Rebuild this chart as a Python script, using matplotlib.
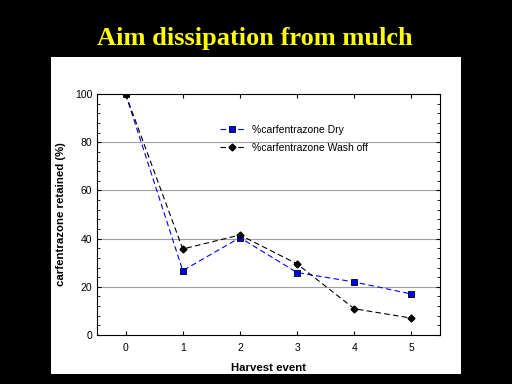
import matplotlib
matplotlib.use("Agg")
import matplotlib.pyplot as plt
from matplotlib.patches import Rectangle
from matplotlib.ticker import MultipleLocator

harvest = [0, 1, 2, 3, 4, 5]
dry = [100, 26.7, 40.4, 25.9, 22.0, 17.0]
wash = [100, 35.7, 41.5, 29.5, 10.9, 7.0]
xticks = [0, 1, 2, 3, 4, 5]
yticks = [0, 20, 40, 60, 80, 100]

W, H = 512, 384
fig = plt.figure(figsize=(W / 100, H / 100), dpi=100, facecolor="black")

# white panel
fig.patches.append(Rectangle((51 / W, 1 - 374 / H), (461 - 51) / W, (374 - 57) / H,
                             transform=fig.transFigure, facecolor="white",
                             edgecolor="none", zorder=-10))

fig.text(255 / W, 1 - 38 / H, "Aim dissipation from mulch", color="#ffff00",
         fontsize=19, fontweight="bold", family="Liberation Serif",
         ha="center", va="center")

ax = fig.add_axes([97 / W, 1 - 335 / H, (440 - 97) / W, (335 - 94) / H])
ax.set_zorder(5)
ax.set_facecolor("white")
ax.set_xlim(-0.5, 5.5)
ax.set_ylim(0, 100)
ax.set_xticks(xticks)
ax.set_yticks(yticks)
ax.yaxis.set_minor_locator(MultipleLocator(4))
for y in yticks[1:-1]:
    ax.axhline(y, color="#a0a0a0", lw=0.8, zorder=0)

ax.plot(harvest, dry, color="#0000ff", ls=(0, (5, 3)), lw=0.8, marker="s",
        ms=5, mfc="#0000ff", mec="black", mew=0.6, label="%carfentrazone Dry")
ax.plot(harvest, wash, color="black", ls=(0, (5, 3)), lw=0.8, marker="D",
        ms=3.5, mfc="black", mec="black", label="%carfentrazone Wash off")

ax.tick_params(direction="in", length=3, width=0.8, labelsize=7.5,
               top=True, right=True, colors="black")
ax.tick_params(which="minor", direction="in", length=2, width=0.6,
               left=True, right=True)
for lbl in ax.get_xticklabels() + ax.get_yticklabels():
    lbl.set_family("Liberation Sans")
ax.tick_params(axis="x", pad=6)
for s in ax.spines.values():
    s.set_linewidth(0.8)

ax.set_xlabel("Harvest event", fontsize=8.2, fontweight="bold",
              family="Liberation Sans", labelpad=7)
ax.set_ylabel("carfentrazone retained (%)", fontsize=8.2, fontweight="bold",
              family="Liberation Sans", labelpad=6)

leg = ax.legend(loc="upper left", bbox_to_anchor=(0.33, 0.91), frameon=False,
                prop={"family": "Liberation Sans", "size": 7.5},
                handlelength=2.3, labelspacing=0.75)

fig.savefig("out.png", dpi=100, facecolor="black")
